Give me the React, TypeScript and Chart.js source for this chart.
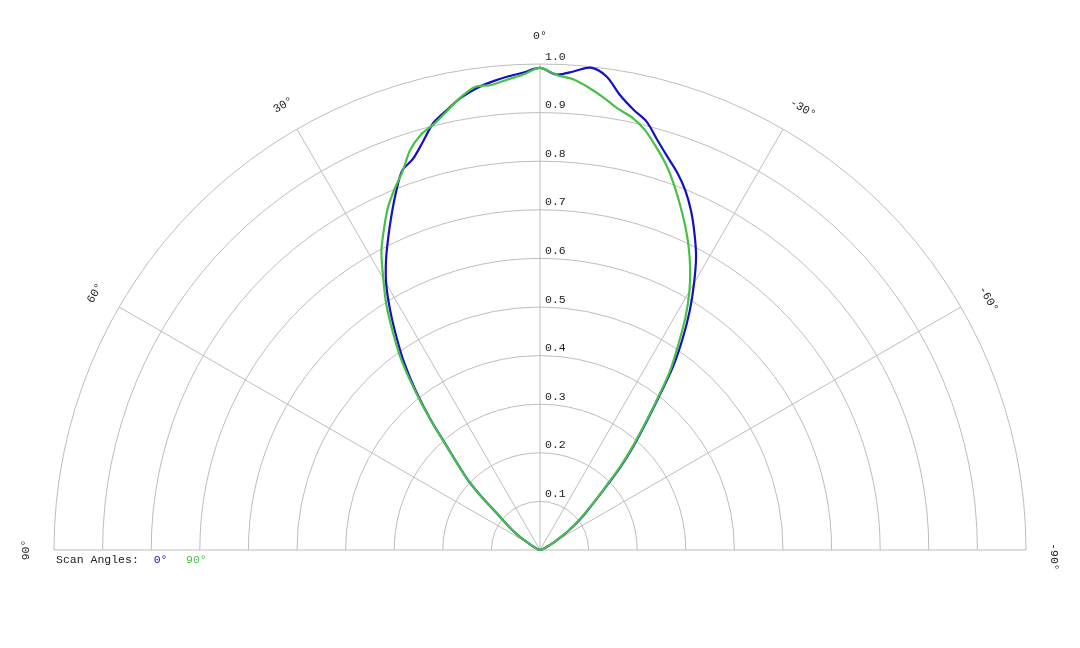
import React, { useEffect, useRef } from "react";
import { Chart, registerables } from "chart.js";

Chart.register(...registerables);

// Angles in degrees (positive = left side of the plot)
const angles = [
  -90, -88, -86, -84, -82, -80, -78, -76, -74, -72,
  -70, -68, -66, -64, -62, -60, -58, -56, -54, -52,
  -50, -48, -46, -44, -42, -40, -38, -36, -34, -32,
  -30, -28, -26, -24, -22, -20, -18, -16, -14, -12,
  -10, -8, -6, -4, -2, 0, 2, 4, 6, 8,
  10, 12, 14, 16, 18, 20, 22, 24, 26, 28,
  30, 32, 34, 36, 38, 40, 42, 44, 46, 48,
  50, 52, 54, 56, 58, 60, 62, 64, 66, 68,
  70, 72, 74, 76, 78, 80, 82, 84, 86, 88,
  90,
];

// Scan angle 0° (blue)
const scan0 = [
  0, 0, 0, 0, 0, 0.001, 0.002, 0.003, 0.004, 0.006,
  0.008, 0.011, 0.015, 0.02, 0.028, 0.038, 0.052, 0.07, 0.09, 0.11,
  0.13, 0.157, 0.192, 0.24, 0.287, 0.335, 0.393, 0.465, 0.525, 0.582,
  0.634, 0.684, 0.725, 0.764, 0.798, 0.826, 0.85, 0.877, 0.908, 0.926,
  0.95, 0.984, 0.998, 0.987, 0.979, 0.992, 0.983, 0.976, 0.968, 0.958,
  0.944, 0.925, 0.906, 0.874, 0.846, 0.83, 0.792, 0.752, 0.713, 0.675,
  0.633, 0.582, 0.528, 0.475, 0.415, 0.35, 0.285, 0.24, 0.203, 0.155,
  0.11, 0.09, 0.072, 0.055, 0.04, 0.026, 0.018, 0.012, 0.008, 0.006,
  0.004, 0.003, 0.002, 0.002, 0.001, 0.001, 0, 0, 0, 0,
  0,
];

// Scan angle 90° (green)
const scan90 = [
  0, 0, 0, 0, 0, 0.001, 0.002, 0.003, 0.004, 0.006,
  0.008, 0.011, 0.014, 0.019, 0.027, 0.037, 0.05, 0.068, 0.088, 0.107,
  0.127, 0.154, 0.188, 0.236, 0.282, 0.33, 0.388, 0.455, 0.508, 0.565,
  0.615, 0.658, 0.697, 0.733, 0.768, 0.803, 0.836, 0.864, 0.891, 0.91,
  0.922, 0.94, 0.957, 0.971, 0.978, 0.992, 0.979, 0.97, 0.962, 0.962,
  0.945, 0.923, 0.903, 0.889, 0.865, 0.828, 0.8, 0.77, 0.733, 0.695,
  0.645, 0.597, 0.542, 0.487, 0.42, 0.352, 0.287, 0.242, 0.204, 0.156,
  0.111, 0.09, 0.072, 0.055, 0.04, 0.026, 0.018, 0.012, 0.008, 0.006,
  0.004, 0.003, 0.002, 0.002, 0.001, 0.001, 0, 0, 0, 0,
  0,
];

const ringValues = [0.1, 0.2, 0.3, 0.4, 0.5, 0.6, 0.7, 0.8, 0.9, 1.0];
const ringLabels = ["0.1", "0.2", "0.3", "0.4", "0.5", "0.6", "0.7", "0.8", "0.9", "1.0"];
const spokeAngles = [60, 30, 0, -30, -60];
const angleLabelValues = [90, 60, 30, 0, -30, -60, -90];
const angleLabels = ["90°", "60°", "30°", "0°", "-30°", "-60°", "-90°"];
const legendTitle = "Scan Angles:";
const seriesNames = ["0°", "90°"];
const seriesColors = ["#1410c4", "#48c048"];

const FONT = "11.5px 'Liberation Mono', 'DejaVu Sans Mono', monospace";
const GRID = "#bdbdbd";
const TEXT = "#222222";

const toRad = (d: number) => (d * Math.PI) / 180;

function toXY(vals: number[]) {
  return angles.map((a, i) => ({
    x: -vals[i] * Math.sin(toRad(a)),
    y: vals[i] * Math.cos(toRad(a)),
  }));
}

const polarGrid = {
  id: "polarGrid",
  beforeDatasetsDraw(chart: any) {
    const { ctx, scales } = chart;
    const xs = scales.x;
    const ys = scales.y;
    const cx = xs.getPixelForValue(0);
    const cy = ys.getPixelForValue(0);
    const R = (v: number) => xs.getPixelForValue(v) - cx;
    const Rmax = R(1);
    ctx.save();
    ctx.strokeStyle = GRID;
    ctx.lineWidth = 1;
    // rings
    ringValues.forEach((v) => {
      ctx.beginPath();
      ctx.arc(cx, cy, R(v), Math.PI, 2 * Math.PI);
      ctx.stroke();
    });
    // baseline (±90°)
    ctx.beginPath();
    ctx.moveTo(xs.getPixelForValue(-1), cy);
    ctx.lineTo(xs.getPixelForValue(1), cy);
    ctx.stroke();
    // spokes
    spokeAngles.forEach((a) => {
      ctx.beginPath();
      ctx.moveTo(cx, cy);
      ctx.lineTo(cx - Rmax * Math.sin(toRad(a)), cy - Rmax * Math.cos(toRad(a)));
      ctx.stroke();
    });
    // ring labels
    ctx.font = FONT;
    ctx.fillStyle = TEXT;
    ctx.textAlign = "left";
    ctx.textBaseline = "middle";
    ringValues.forEach((v, i) => {
      ctx.fillText(ringLabels[i], cx + 5, cy - R(v) - 7.5);
    });
    // angle labels
    const rl = R(1.057);
    angleLabelValues.forEach((a, i) => {
      const px = cx - rl * Math.sin(toRad(a));
      const py = cy - rl * Math.cos(toRad(a));
      ctx.save();
      ctx.translate(px, py);
      ctx.rotate(-toRad(a));
      ctx.textAlign = "center";
      ctx.textBaseline = "middle";
      const label = angleLabels[i];
      const off = label.startsWith("-") ? ctx.measureText("-").width : 0;
      ctx.fillText(label, off, 0);
      ctx.restore();
    });
    // legend
    const lx = xs.getPixelForValue(-1);
    const ly = cy + 9.5;
    ctx.textAlign = "left";
    ctx.fillStyle = TEXT;
    ctx.fillText(legendTitle, lx + 2, ly);
    ctx.fillStyle = seriesColors[0];
    ctx.fillText(seriesNames[0], lx + 99.7, ly);
    ctx.fillStyle = seriesColors[1];
    ctx.fillText(seriesNames[1], lx + 132, ly);
    ctx.restore();
  },
};

export default function App() {
  const ref = useRef<HTMLCanvasElement | null>(null);
  useEffect(() => {
    if (!ref.current) return;
    const chart = new Chart(ref.current, {
      type: "scatter",
      data: {
        datasets: [
          {
            label: seriesNames[0],
            data: toXY(scan0),
            showLine: true,
            borderColor: seriesColors[0],
            borderWidth: 2.2,
            pointRadius: 0,
            tension: 0.3,
            clip: false,
            order: 2,
          } as any,
          {
            label: seriesNames[1],
            data: toXY(scan90),
            showLine: true,
            borderColor: seriesColors[1],
            borderWidth: 2.2,
            pointRadius: 0,
            tension: 0.3,
            clip: false,
            order: 1,
          } as any,
        ],
      },
      options: {
        animation: false,
        responsive: true,
        maintainAspectRatio: false,
        layout: { padding: { left: 54, right: 54, top: 64, bottom: 98 } },
        plugins: { legend: { display: false }, tooltip: { enabled: false } },
        scales: {
          x: { type: "linear", min: -1, max: 1, display: false },
          y: { type: "linear", min: 0, max: 1, display: false },
        },
      },
      plugins: [polarGrid],
    });
    return () => chart.destroy();
  }, []);
  return (
    <div
      style={{
        position: "fixed",
        left: 0,
        top: 0,
        width: 1080,
        height: 648,
        background: "#ffffff",
      }}
    >
      <canvas ref={ref} />
    </div>
  );
}
